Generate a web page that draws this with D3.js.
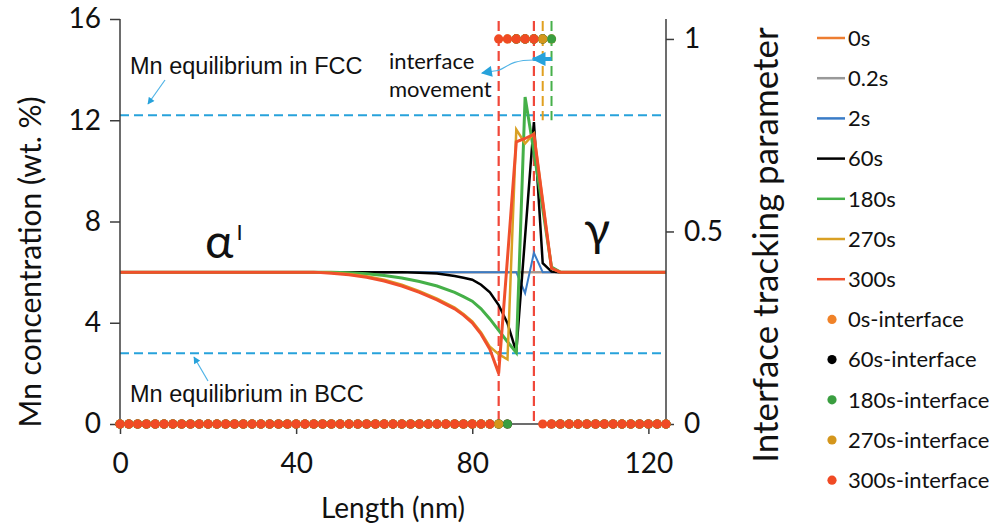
<!DOCTYPE html>
<html>
<head>
<meta charset="utf-8">
<script src="https://cdn.jsdelivr.net/npm/d3@7"></script>
<style>
  body { margin: 0; background: #fff; }
  svg { display: block; }
</style>
</head>
<body>
<svg id="chart" width="1004" height="528"></svg>
<script>
// Mn concentration profiles (wt.%) along the sample, one array per annealing time
const positions = [0, 40, 44, 48, 52, 56, 60, 64, 68, 72, 76, 78, 80, 82, 84, 86, 88, 90, 92, 94, 96, 98, 100, 124];
const mn0s   = [6, 6, 6, 6, 6, 6, 6, 6, 6, 6, 6, 6, 6, 6, 6, 6, 6, 6, 6, 6, 6, 6, 6, 6];
const mn02s  = [6, 6, 6, 6, 6, 6, 6, 6, 6, 6, 6, 6, 6, 6, 6, 6, 6, 6, 6, 6, 6, 6, 6, 6];
const mn2s   = [6, 6, 6, 6, 6, 6, 6, 6, 6, 6, 6, 6, 6, 6, 6, 6, 6, 6, 5.17, 6.76, 6, 6, 6, 6];
const mn60s  = [6, 6, 6, 6, 6, 6, 6, 6, 5.98, 5.95, 5.85, 5.78, 5.7, 5.5, 5.2, 4.7, 3.98, 2.85, 7.4, 11.93, 6.35, 6.02, 6, 6];
const mn180s = [6, 6, 6, 6, 5.98, 5.94, 5.87, 5.77, 5.63, 5.45, 5.2, 5.03, 4.85, 4.55, 4.15, 3.7, 3.25, 2.82, 12.92, 10.75, 8.5, 6.2, 6, 6];
const mn270s = [6, 6, 6, 5.98, 5.93, 5.84, 5.7, 5.5, 5.25, 4.95, 4.6, 4.35, 4.05, 3.62, 3.05, 2.76, 2.55, 11.63, 11.08, 11.47, 8.8, 6.15, 6, 6];
const mn300s = [6, 6, 6, 5.96, 5.9, 5.8, 5.65, 5.45, 5.2, 4.9, 4.55, 4.3, 4.0, 3.55, 2.95, 2.0, 6.55, 11.15, 11.28, 11.45, 8.8, 6.15, 6, 6];

// Interface tracking parameter on the 2 nm grid (1 = interface cell)
const gridNodes = [0, 2, 4, 6, 8, 10, 12, 14, 16, 18, 20, 22, 24, 26, 28, 30, 32, 34, 36, 38,
  40, 42, 44, 46, 48, 50, 52, 54, 56, 58, 60, 62, 64, 66, 68, 70, 72, 74, 76, 78,
  80, 82, 84, 86, 88, 90, 92, 94, 96, 98, 100, 102, 104, 106, 108, 110, 112, 114, 116, 118,
  120, 122, 124];
const if0s = [0,0,0,0,0,0,0,0,0,0, 0,0,0,0,0,0,0,0,0,0, 0,0,0,0,0,0,0,0,0,0, 0,0,0,0,0,0,0,0,0,0,
  0,0,0,0,0,1,1,1,1,1, 0,0,0,0,0,0,0,0,0,0, 0,0,0];
const if60s = [0,0,0,0,0,0,0,0,0,0, 0,0,0,0,0,0,0,0,0,0, 0,0,0,0,0,0,0,0,0,0, 0,0,0,0,0,0,0,0,0,0,
  0,0,0,0,0,1,1,1,1,0, 0,0,0,0,0,0,0,0,0,0, 0,0,0];
const if180s = [0,0,0,0,0,0,0,0,0,0, 0,0,0,0,0,0,0,0,0,0, 0,0,0,0,0,0,0,0,0,0, 0,0,0,0,0,0,0,0,0,0,
  0,0,0,0,0,1,1,1,1,1, 0,0,0,0,0,0,0,0,0,0, 0,0,0];
const if270s = [0,0,0,0,0,0,0,0,0,0, 0,0,0,0,0,0,0,0,0,0, 0,0,0,0,0,0,0,0,0,0, 0,0,0,0,0,0,0,0,0,0,
  0,0,0,0,1,1,1,1,1,0, 0,0,0,0,0,0,0,0,0,0, 0,0,0];
const if300s = [0,0,0,0,0,0,0,0,0,0, 0,0,0,0,0,0,0,0,0,0, 0,0,0,0,0,0,0,0,0,0, 0,0,0,0,0,0,0,0,0,0,
  0,0,0,1,1,1,1,1,0,0, 0,0,0,0,0,0,0,0,0,0, 0,0,0];

// Interface bounds marked with dashed verticals
const boundsFull = [86, 94];     // 300 s interface, full height
const boundsShort = [96, 98];    // 270 s and 180 s interface fronts
const fccEq = 12.2;
const bccEq = 2.8;

const lineNames = ["0s", "0.2s", "2s", "60s", "180s", "270s", "300s"];
const lineValues = [mn0s, mn02s, mn2s, mn60s, mn180s, mn270s, mn300s];
const dotNames = ["0s-interface", "60s-interface", "180s-interface", "270s-interface", "300s-interface"];
const dotValues = [if0s, if60s, if180s, if270s, if300s];

const leftTicks = [0, 4, 8, 12, 16];
const rightTicks = [0, 0.5, 1];
const bottomTicks = [0, 40, 80, 120];

const lineColors = ["#ED7D31", "#999999", "#3A7CC7", "#000000", "#45B048", "#D9A024", "#F0502C"];
const lineWidths = [2, 2, 2, 2.5, 3, 2.5, 3];
const dotColors = ["#F08228", "#000000", "#3A9E40", "#D4961C", "#F04A24"];
const eqBlue = "#27A2DB";

const svg = d3.select("#chart");
const plot = { left: 120, right: 666, top: 19, bottom: 424 };

const x = d3.scaleLinear().domain([0, 124]).range([plot.left, plot.right]);
const y = d3.scaleLinear().domain([0, 16]).range([plot.bottom, plot.top]);
const y2 = d3.scaleLinear().domain([0, 1.0518]).range([plot.bottom, plot.top]);

const calibriLike = "Lato, 'Open Sans', sans-serif";
const arialLike = "'Liberation Sans', Arial, sans-serif";

const defs = svg.append("defs");
defs.append("clipPath").attr("id", "plotClip")
  .append("rect").attr("x", plot.left).attr("y", plot.top - 2)
  .attr("width", plot.right - plot.left).attr("height", plot.bottom - plot.top + 4);
function arrowHead(id, w, h) {
  defs.append("marker").attr("id", id).attr("viewBox", "0 0 10 10")
    .attr("refX", 9).attr("refY", 5).attr("markerWidth", w).attr("markerHeight", h)
    .attr("markerUnits", "userSpaceOnUse").attr("orient", "auto")
    .append("path").attr("d", "M0,0 L10,5 L0,10 Z").attr("fill", eqBlue);
}
arrowHead("headSmall", 8, 7);
arrowHead("headMid", 13, 11);
arrowHead("headBig", 14, 15);

// Equilibrium reference lines
const eq = svg.append("g");
[fccEq, bccEq].forEach(v => {
  eq.append("line")
    .attr("x1", plot.left).attr("x2", plot.right)
    .attr("y1", y(v)).attr("y2", y(v))
    .attr("stroke", eqBlue).attr("stroke-width", 2)
    .attr("stroke-dasharray", "9,5");
});

// Dashed interface markers
const markers = svg.append("g");
boundsFull.forEach(v => {
  markers.append("line")
    .attr("x1", x(v)).attr("x2", x(v))
    .attr("y1", plot.top + 2).attr("y2", plot.bottom)
    .attr("stroke", "#F0483A").attr("stroke-width", 2.2)
    .attr("stroke-dasharray", "10,5");
});
const shortColors = ["#E0A020", "#46B04A"];
boundsShort.forEach((v, i) => {
  markers.append("line")
    .attr("x1", x(v)).attr("x2", x(v))
    .attr("y1", plot.top + 2).attr("y2", y(12.0))
    .attr("stroke", shortColors[i]).attr("stroke-width", 2)
    .attr("stroke-dasharray", "10,5");
});

// Concentration lines
const lineGen = d3.line().x((d, i) => x(positions[i])).y(d => y(d));
const lines = svg.append("g").attr("clip-path", "url(#plotClip)");
lineValues.forEach((vals, k) => {
  lines.append("path")
    .attr("d", lineGen(vals))
    .attr("fill", "none")
    .attr("stroke", lineColors[k])
    .attr("stroke-width", lineWidths[k])
    .attr("stroke-linejoin", "miter")
    .attr("stroke-miterlimit", 4);
});

// Axes
const axisColor = "#3c3c3c";
const gx = svg.append("g").attr("transform", `translate(0,${plot.bottom})`)
  .call(d3.axisBottom(x).tickValues(bottomTicks).tickSize(10).tickPadding(19));
const gy = svg.append("g").attr("transform", `translate(${plot.left},0)`)
  .call(d3.axisLeft(y).tickValues(leftTicks).tickSize(10).tickPadding(9));
const gy2 = svg.append("g").attr("transform", `translate(${plot.right},0)`)
  .call(d3.axisRight(y2).tickValues(rightTicks).tickFormat(d3.format("")).tickSize(8).tickPadding(10));
[gx, gy, gy2].forEach(g => {
  g.selectAll("path.domain").attr("stroke", axisColor).attr("stroke-width", 1.5);
  g.selectAll(".tick line").attr("stroke", axisColor).attr("stroke-width", 1.5);
  g.selectAll(".tick text").attr("fill", "#111").attr("font-family", calibriLike).attr("font-size", 28);
});
gx.select("path.domain").attr("d", `M${plot.left},0H${plot.right}`);
gy.select("path.domain").attr("d", `M0,${plot.bottom}V${plot.top}`);
gy2.select("path.domain").attr("d", `M0,${plot.bottom}V${plot.top}`);

// Interface tracking points
const dots = svg.append("g");
dotValues.forEach((vals, k) => {
  dots.selectAll(null).data(vals).enter().append("circle")
    .attr("cx", (d, i) => x(gridNodes[i]))
    .attr("cy", d => y2(d))
    .attr("r", 4.6)
    .attr("fill", dotColors[k]);
});

// Axis titles
svg.append("text")
  .attr("transform", `translate(41,262) rotate(-90)`)
  .attr("text-anchor", "middle").attr("font-family", calibriLike).attr("font-size", 30)
  .attr("fill", "#111").text("Mn concentration (wt. %)");
svg.append("text")
  .attr("transform", `translate(778,245) rotate(-90)`)
  .attr("text-anchor", "middle").attr("font-family", calibriLike).attr("font-size", 35)
  .attr("fill", "#111").text("Interface tracking parameter");
svg.append("text")
  .attr("x", (plot.left + plot.right) / 2).attr("y", 518)
  .attr("text-anchor", "middle").attr("font-family", calibriLike).attr("font-size", 28)
  .attr("fill", "#111").text("Length (nm)");

// Phase labels
const alpha = svg.append("text").attr("x", 205).attr("y", 258)
  .attr("font-family", calibriLike).attr("font-size", 48).attr("fill", "#111");
alpha.append("tspan").text("α");
alpha.append("tspan").attr("font-size", 22).attr("dx", 3).attr("dy", -18).text("I");
svg.append("text").attr("x", 584).attr("y", 246)
  .attr("font-family", calibriLike).attr("font-size", 48).attr("fill", "#111").text("γ");

// Equilibrium annotations
svg.append("text").attr("x", 130).attr("y", 74)
  .attr("font-family", arialLike).attr("font-size", 23.5).attr("fill", "#111")
  .text("Mn equilibrium  in FCC");
svg.append("line").attr("x1", 165).attr("y1", 80).attr("x2", 148).attr("y2", 104)
  .attr("stroke", "#4FB3E6").attr("stroke-width", 1.2).attr("marker-end", "url(#headSmall)");
svg.append("text").attr("x", 130).attr("y", 402)
  .attr("font-family", arialLike).attr("font-size", 23.5).attr("fill", "#111")
  .text("Mn equilibrium  in BCC");
svg.append("line").attr("x1", 208).attr("y1", 381).attr("x2", 194).attr("y2", 357)
  .attr("stroke", "#4FB3E6").attr("stroke-width", 1.2).attr("marker-end", "url(#headSmall)");

// Interface movement annotation
const mv = svg.append("text").attr("font-family", calibriLike).attr("font-size", 22).attr("fill", "#111");
mv.append("tspan").attr("x", 389).attr("y", 69).text("interface");
mv.append("tspan").attr("x", 389).attr("y", 97).text("movement");
svg.append("line")
  .attr("x1", x(98)).attr("y1", 59).attr("x2", x(94) - 1).attr("y2", 59)
  .attr("stroke", eqBlue).attr("stroke-width", 4).attr("marker-end", "url(#headBig)");
svg.append("path")
  .attr("d", `M${x(94)},60 C505,60 506,71 494,71 L482,73`)
  .attr("fill", "none").attr("stroke", "#4FB3E6").attr("stroke-width", 1.2)
  .attr("marker-end", "url(#headMid)");

// Legend
const legend = svg.append("g").attr("font-family", calibriLike).attr("font-size", 22).attr("fill", "#111");
const legendY = i => 38 + i * 40.2;
lineNames.forEach((name, i) => {
  legend.append("line").attr("x1", 817).attr("x2", 845)
    .attr("y1", legendY(i)).attr("y2", legendY(i))
    .attr("stroke", lineColors[i]).attr("stroke-width", 2.5);
  legend.append("text").attr("x", 848).attr("y", legendY(i)).attr("dy", "0.35em").text(name);
});
dotNames.forEach((name, j) => {
  const i = j + lineNames.length;
  legend.append("circle").attr("cx", 832).attr("cy", legendY(i)).attr("r", 4.6).attr("fill", dotColors[j]);
  legend.append("text").attr("x", 848).attr("y", legendY(i)).attr("dy", "0.35em").text(name);
});
</script>
</body>
</html>
